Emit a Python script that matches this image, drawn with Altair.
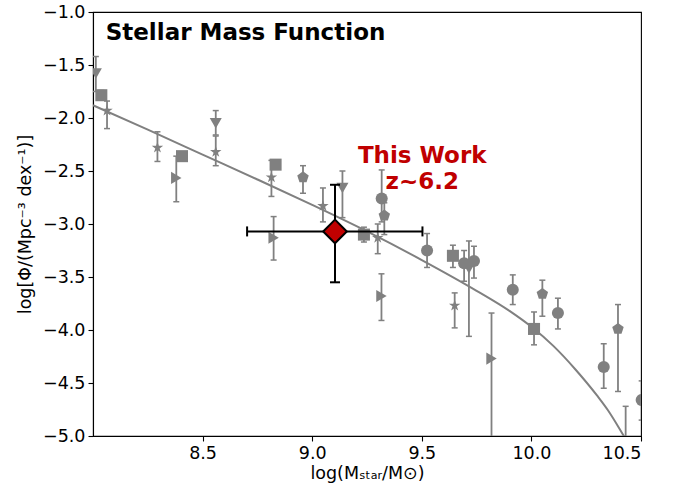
import altair as alt
import pandas as pd

# ---- literature points (gray) ----
circle_x = [9.317, 9.524, 9.693, 9.738, 9.915, 10.121, 10.33, 10.503, 10.43]
circle_y = [-2.76, -3.25, -3.37, -3.35, -3.62, -3.84, -4.35, -4.66, -5.25]
circle_lo = [-2.98, -3.41, -3.54, -3.51, -3.76, -3.99, -4.55, -4.85, -5.80]
circle_hi = [-2.49, -3.09, -3.25, -3.21, -3.48, -3.70, -4.13, -4.48, -4.72]

square_x = [8.038, 8.406, 8.833, 9.236, 9.642, 10.012]
square_y = [-1.785, -2.36, -2.44, -3.10, -3.30, -3.99]
square_lo = [-1.83, -2.40, -2.48, -3.17, -3.41, -4.14]
square_hi = [-1.74, -2.32, -2.40, -3.03, -3.20, -3.83]

pent_x = [8.958, 9.329, 10.05, 10.395]
pent_y = [-2.56, -2.92, -3.66, -3.99]
pent_lo = [-2.71, -3.10, -3.87, -4.58]
pent_hi = [-2.45, -2.80, -3.53, -3.76]

star_x = [8.064, 8.294, 8.56, 8.814, 9.049, 9.299, 9.65]
star_y = [-1.93, -2.28, -2.32, -2.56, -2.83, -3.13, -3.77]
star_lo = [-2.10, -2.41, -2.45, -2.74, -2.98, -3.28, -3.98]
star_hi = [-1.84, -2.13, -2.17, -2.40, -2.66, -3.00, -3.65]

tdown_x = [8.013, 8.56, 9.138, 9.715]
tdown_y = [-1.58, -2.05, -2.66, -3.42]
tdown_lo = [-1.75, -2.16, -2.94, -4.06]
tdown_hi = [-1.42, -1.93, -2.50, -3.16]

tright_x = [8.38, 8.824, 9.316, 9.818]
tright_y = [-2.565, -3.13, -3.68, -4.27]
tright_lo = [-2.79, -3.34, -3.91, -5.30]
tright_hi = [-2.36, -2.93, -3.47, -3.84]

# ---- fit curve ----
curve_x = [8.0, 8.25, 8.5, 8.75, 9.0, 9.25, 9.5, 9.75, 9.9, 10.0, 10.1, 10.2,
           10.3, 10.35, 10.41, 10.45]
curve_y = [-1.88, -2.11, -2.345, -2.58, -2.82, -3.07, -3.34, -3.63, -3.82, -3.97,
           -4.15, -4.37, -4.62, -4.76, -4.96, -5.10]

# ---- this work ----
tw_x = [9.104]
tw_y = [-3.07]
tw_xlo = [8.703]
tw_xhi = [9.503]
tw_ylo = [-3.55]
tw_yhi = [-2.63]

GRAY = "#808080"
RED = "#c00000"
PENT = "M0,-1L0.951,-0.309L0.588,0.809L-0.588,0.809L-0.951,-0.309Z"
STAR = ("M0,-1L0.2245,-0.309L0.951,-0.309L0.363,0.118L0.588,0.809L0,0.382"
        "L-0.588,0.809L-0.363,0.118L-0.951,-0.309L-0.2245,-0.309Z")

kinds = ["circle", "square", "pentagon", "star", "tdown", "tright"]
shapes = ["circle", "square", PENT, STAR, "triangle-down", "triangle-right"]
sizes = [145, 145, 170, 200, 250, 250]

rows = []
for name, xs, ys, los, his in [
    ("circle", circle_x, circle_y, circle_lo, circle_hi),
    ("square", square_x, square_y, square_lo, square_hi),
    ("pentagon", pent_x, pent_y, pent_lo, pent_hi),
    ("star", star_x, star_y, star_lo, star_hi),
    ("tdown", tdown_x, tdown_y, tdown_lo, tdown_hi),
    ("tright", tright_x, tright_y, tright_lo, tright_hi),
]:
    for a, b, c, d in zip(xs, ys, los, his):
        rows.append({"x": a, "y": b, "lo": c, "hi": d, "kind": name})
obs = pd.DataFrame(rows)
curve = pd.DataFrame({"x": curve_x, "y": curve_y})
tw = pd.DataFrame({"x": tw_x, "y": tw_y, "xlo": tw_xlo, "xhi": tw_xhi,
                   "ylo": tw_ylo, "yhi": tw_yhi})

xscale = alt.Scale(domain=[8.0, 10.5], nice=False, zero=False)
yscale = alt.Scale(domain=[-5.0, -1.0], nice=False, zero=False)
xaxis = alt.Axis(values=[8.5, 9.0, 9.5, 10.0, 10.5], format=".1f",
                 title="log(Mₛₜₐᵣ/M⊙)")
yaxis = alt.Axis(values=[-1.0, -1.5, -2.0, -2.5, -3.0, -3.5, -4.0, -4.5, -5.0],
                 format=".1f", title="log[Φ/(Mpc⁻³ dex⁻¹)]")

X = lambda f: alt.X(f, type="quantitative", scale=xscale, axis=xaxis)
Y = lambda f: alt.Y(f, type="quantitative", scale=yscale, axis=yaxis)

line = alt.Chart(curve).mark_line(color=GRAY, strokeWidth=2, clip=True,
                                  interpolate="monotone").encode(x=X("x"), y=Y("y"))

err = alt.Chart(obs).mark_rule(color=GRAY, strokeWidth=1.8, clip=True).encode(
    x=X("x"), y=Y("lo"), y2="hi")

caps = alt.Chart(obs).transform_fold(["lo", "hi"], as_=["end", "val"]).mark_tick(
    orient="horizontal", color=GRAY, size=6, thickness=1.5, clip=True, opacity=1
).encode(x=X("x"), y=Y("val"))

pts = alt.Chart(obs).mark_point(filled=True, opacity=1, color=GRAY,
                                clip=True).encode(
    x=X("x"), y=Y("y"),
    shape=alt.Shape("kind:N", legend=None, scale=alt.Scale(domain=kinds, range=shapes)),
    size=alt.Size("kind:N", legend=None, scale=alt.Scale(domain=kinds, range=sizes)))

tw_xerr = alt.Chart(tw).mark_rule(color="black", strokeWidth=2).encode(
    x=X("xlo"), x2="xhi", y=Y("y"))
tw_yerr = alt.Chart(tw).mark_rule(color="black", strokeWidth=2).encode(
    x=X("x"), y=Y("ylo"), y2="yhi")
tw_xcaps = alt.Chart(tw).transform_fold(["xlo", "xhi"], as_=["end", "val"]).mark_tick(
    orient="vertical", color="black", size=10, thickness=2, opacity=1
).encode(x=X("val"), y=Y("y"))
tw_ycaps = alt.Chart(tw).transform_fold(["ylo", "yhi"], as_=["end", "val"]).mark_tick(
    orient="horizontal", color="black", size=10, thickness=2, opacity=1
).encode(x=X("x"), y=Y("val"))
tw_pt = alt.Chart(tw).mark_point(shape="diamond", filled=True, fill=RED, stroke="black",
                                 strokeWidth=2, size=560, opacity=1, fillOpacity=1,
                                 strokeOpacity=1).encode(x=X("x"), y=Y("y"))

title_df = pd.DataFrame({"x": [8.058], "y": [-1.262], "t": ["Stellar Mass Function"]})
title = alt.Chart(title_df).mark_text(align="left", baseline="alphabetic", font="DejaVu Sans",
                                      fontWeight="bold", fontSize=23, color="black").encode(
    x=X("x"), y=Y("y"), text="t:N")

lab_df = pd.DataFrame({"x": [9.502, 9.502], "y": [-2.429, -2.674], "t": ["This Work", "z~6.2"]})
lab = alt.Chart(lab_df).mark_text(align="center", baseline="alphabetic", font="DejaVu Sans",
                                  fontWeight="bold", fontSize=23, color=RED).encode(
    x=X("x"), y=Y("y"), text="t:N")

chart = alt.layer(line, err, caps, pts, tw_xerr, tw_yerr, tw_xcaps, tw_ycaps, tw_pt,
                  title, lab).resolve_scale(size="independent", shape="independent").properties(
    width=548, height=424,
    autosize=alt.AutoSizeParams(type="none"),
    padding={"left": 93, "top": 12, "right": 48, "bottom": 53},
).configure_view(stroke="black", strokeWidth=1.1).configure_axis(
    grid=False, labelFont="DejaVu Sans", titleFont="DejaVu Sans",
    labelFontSize=17.5, titleFontSize=17.5, labelColor="black", titleColor="black",
    tickColor="black", domainColor="black", tickSize=5, tickWidth=1.1, domainWidth=1.1,
    labelPadding=3, titleFontWeight="normal"
).configure_axisX(titlePadding=3).configure_axisY(titlePadding=8)

chart.save("out.html", embed_options={"renderer": "svg", "actions": False})
